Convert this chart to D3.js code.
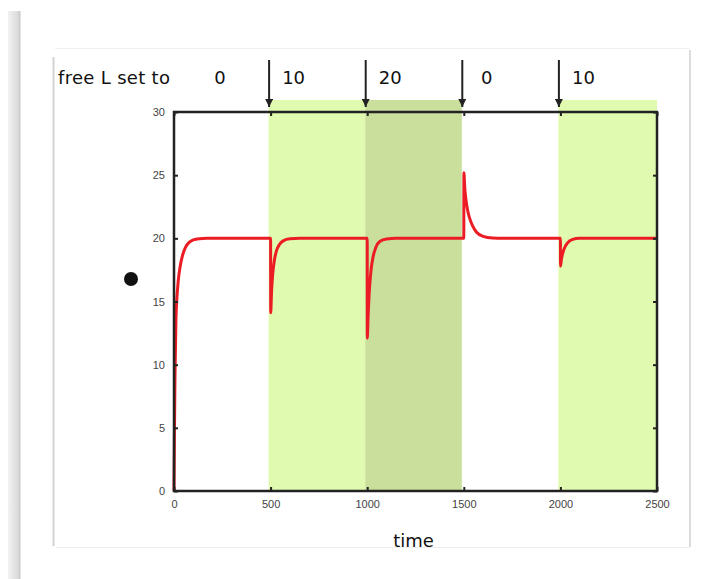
<!DOCTYPE html>
<html>
<head>
<meta charset="utf-8">
<script src="https://cdn.jsdelivr.net/npm/d3@7"></script>
<style>
  html, body { margin: 0; padding: 0; background: #ffffff; }
  svg { display: block; }
</style>
</head>
<body>
<svg id="chart" width="703" height="579"></svg>
<script>
// Free ligand level applied in each interval, starting at each switch time
const switchTimes = [0, 500, 1000, 1500, 2000];
const freeL = [0, 10, 20, 0, 10];

// Axis ticks
const timeTicks = [0, 500, 1000, 1500, 2000, 2500];
const valueTicks = [0, 5, 10, 15, 20, 25, 30];

// Response trace (time, value)
const curveTime = [
  0, 2, 5, 10, 20, 30, 45, 60, 80, 100, 130, 170, 500,
  500.5, 505, 510, 520, 530, 545, 565, 600, 650, 1000,
  1000.5, 1005, 1010, 1020, 1030, 1045, 1065, 1100, 1150, 1500,
  1500.5, 1505, 1510, 1520, 1530, 1545, 1565, 1600, 1650, 1700, 2000,
  2000.5, 2005, 2010, 2020, 2035, 2060, 2100, 2500
];
const curveValue = [
  0, 4, 9, 13.5, 16.3, 17.6, 18.7, 19.3, 19.7, 19.88, 19.97, 20, 20,
  14.1, 15.8, 17.0, 18.3, 19.0, 19.5, 19.8, 19.97, 20, 20,
  12.1, 14.0, 15.6, 17.5, 18.5, 19.3, 19.75, 19.95, 20, 20,
  25.2, 24.0, 23.2, 22.2, 21.6, 21.0, 20.5, 20.15, 20.02, 20, 20,
  17.8, 18.3, 18.7, 19.2, 19.6, 19.9, 20, 20
];

const svg = d3.select("#chart");

// Page chrome: left shadow strip and the card behind the plot
const defs = svg.append("defs");
const grad = defs.append("linearGradient").attr("id", "strip").attr("x1", 0).attr("x2", 1);
grad.append("stop").attr("offset", "0%").attr("stop-color", "#f2f2f2");
grad.append("stop").attr("offset", "75%").attr("stop-color", "#dcdcdc");
grad.append("stop").attr("offset", "100%").attr("stop-color", "#c8c8c8");
svg.append("rect").attr("x", 8).attr("y", 11).attr("width", 12.5).attr("height", 568).attr("fill", "url(#strip)");

svg.append("line").attr("x1", 55).attr("x2", 690).attr("y1", 48.5).attr("y2", 48.5)
  .attr("stroke", "#f0f0f0").attr("stroke-width", 1);
svg.append("line").attr("x1", 56).attr("x2", 690).attr("y1", 547.5).attr("y2", 547.5)
  .attr("stroke", "#eeeeee").attr("stroke-width", 1);
svg.append("line").attr("x1", 53.5).attr("x2", 53.5).attr("y1", 57).attr("y2", 546)
  .attr("stroke", "#d4d4d4").attr("stroke-width", 2);
svg.append("line").attr("x1", 690).attr("x2", 690).attr("y1", 50).attr("y2", 547)
  .attr("stroke", "#dcdcdc").attr("stroke-width", 2);

// Plot area
const plot = { left: 174, right: 657, top: 112, bottom: 491 };
const x = d3.scaleLinear().domain([0, 2500]).range([plot.left, plot.right]);
const y = d3.scaleLinear().domain([0, 30]).range([plot.bottom, plot.top]);

const shade = d3.scaleOrdinal().domain([10, 20]).range(["#e0fbaf", "#c9df9b"]);

// Shaded intervals for nonzero ligand levels
const intervals = switchTimes.map((t, i) => ({
  start: t,
  end: i + 1 < switchTimes.length ? switchTimes[i + 1] : x.domain()[1],
  level: freeL[i]
})).filter(d => d.level > 0);

const bandEdge = t => (t >= x.domain()[1] ? plot.right : x(t) - 2);
svg.append("g").selectAll("rect").data(intervals).join("rect")
  .attr("x", d => bandEdge(d.start))
  .attr("width", d => bandEdge(d.end) - bandEdge(d.start))
  .attr("y", 100)
  .attr("height", plot.bottom - 100)
  .attr("fill", d => shade(d.level));

// Response curve
const pts = curveTime.map((t, i) => [t, curveValue[i]]);
const line = d3.line().x(d => x(d[0])).y(d => y(d[1])).curve(d3.curveMonotoneX);
svg.append("path").datum(pts)
  .attr("d", line)
  .attr("fill", "none")
  .attr("stroke", "#ec1c24")
  .attr("stroke-width", 3)
  .attr("stroke-linejoin", "round");

// Axes on all four sides with inward ticks
const tickStyle = g => {
  g.select(".domain").remove();
  g.selectAll(".tick line").attr("stroke", "#222").attr("stroke-width", 2);
  g.selectAll(".tick text").attr("fill", "#444")
    .attr("font-family", "Liberation Sans, Arial, sans-serif").attr("font-size", 11);
};
svg.append("g").attr("transform", `translate(0,${plot.bottom})`)
  .call(d3.axisBottom(x).tickValues(timeTicks).tickFormat(d3.format("d")).tickSizeInner(-4).tickPadding(9))
  .call(tickStyle);
svg.append("g").attr("transform", `translate(0,${plot.top})`)
  .call(d3.axisTop(x).tickValues(timeTicks).tickFormat("").tickSizeInner(-4))
  .call(tickStyle);
svg.append("g").attr("transform", `translate(${plot.left},0)`)
  .call(d3.axisLeft(y).tickValues(valueTicks).tickFormat(d3.format("d")).tickSizeInner(-4).tickPadding(9))
  .call(tickStyle);
svg.append("g").attr("transform", `translate(${plot.right},0)`)
  .call(d3.axisRight(y).tickValues(valueTicks).tickFormat("").tickSizeInner(-4))
  .call(tickStyle);

svg.append("rect")
  .attr("x", plot.left).attr("y", plot.top)
  .attr("width", plot.right - plot.left).attr("height", plot.bottom - plot.top)
  .attr("fill", "none").attr("stroke", "#222").attr("stroke-width", 2.5);

// Switch arrows and ligand level labels
defs.append("marker").attr("id", "head")
  .attr("viewBox", "0 0 10 10").attr("refX", 10).attr("refY", 5)
  .attr("markerWidth", 8).attr("markerHeight", 8).attr("markerUnits", "userSpaceOnUse")
  .attr("orient", "auto")
  .append("path").attr("d", "M0,0L10,5L0,10Z").attr("fill", "#222");

svg.append("g").selectAll("line").data(switchTimes.slice(1)).join("line")
  .attr("x1", d => x(d) - 1.5).attr("x2", d => x(d) - 1.5)
  .attr("y1", 60).attr("y2", 107)
  .attr("stroke", "#222").attr("stroke-width", 2)
  .attr("marker-end", "url(#head)");

const labelFont = "DejaVu Sans, Verdana, sans-serif";
svg.append("text").attr("x", 58).attr("y", 84)
  .attr("font-family", labelFont).attr("font-size", 18).attr("fill", "#111")
  .attr("textLength", 112).attr("lengthAdjust", "spacing")
  .text("free L set to");

svg.append("g").selectAll("text").data(switchTimes).join("text")
  .attr("x", (d, i) => i === 0 ? 220 : x(d) + 23)
  .attr("y", 84)
  .attr("text-anchor", "middle")
  .attr("font-family", labelFont).attr("font-size", 18).attr("fill", "#111")
  .text((d, i) => freeL[i]);

// Axis title
svg.append("text").attr("x", 413.5).attr("y", 547)
  .attr("text-anchor", "middle")
  .attr("font-family", labelFont).attr("font-size", 18).attr("fill", "#111")
  .text("time");

// Bullet marker left of the axis
svg.append("circle").attr("cx", 131).attr("cy", 279).attr("r", 7).attr("fill", "#111");
</script>
</body>
</html>
